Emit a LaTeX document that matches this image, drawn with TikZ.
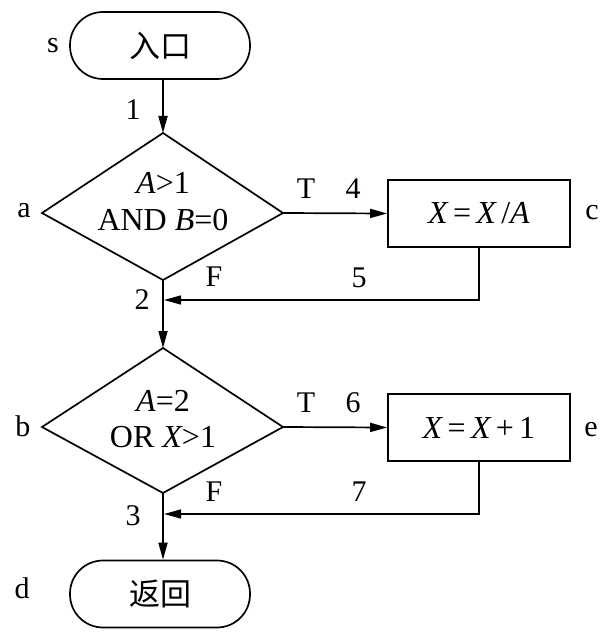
\documentclass[tikz,border=0pt]{standalone}
\usepackage{fontspec}
\setmainfont{Liberation Serif}
\newfontfamily\cjk{Noto Sans CJK SC}
\usetikzlibrary{arrows.meta}
\begin{document}
\begin{tikzpicture}[x=1pt,y=-1pt,line width=1.7pt,
  arr/.style={-{Triangle[length=17pt,width=9pt]}},
  lbl/.style={font=\fontsize{30}{32}\selectfont,inner sep=0pt},
  txt/.style={font=\fontsize{32}{34}\selectfont,inner sep=0pt},
  term/.style={draw,rounded corners=33pt,minimum width=180pt,minimum height=67pt,inner sep=0pt,font=\cjk\fontsize{31}{33}\selectfont},
  procbox/.style={draw,minimum width=182pt,minimum height=67pt,inner sep=0pt,font=\fontsize{32}{34}\selectfont}]
\useasboundingbox (0,0) rectangle (606,639);
% start terminal
\node[term] (s) at (160,45.5) {入口};
\node[lbl] (ls) at (53,46) {s};
% diamond a
\coordinate (aT) at (163,133);
\coordinate (aL) at (42,213);
\coordinate (aR) at (283,213);
\coordinate (aB) at (163,280);
\draw (aT) -- (aR) -- (aB) -- (aL) -- cycle;
\node[txt] (a1) at (163,183) {\itshape A\upshape >1};
\node[txt] (a2) at (163,220) {AND \itshape B\upshape =0};
\node[lbl] (la) at (24,211) {a};
% box c
\node[procbox] (c) at (479,213.5) {\itshape X\upshape\,=\,\itshape X\upshape\,/\itshape A};
\node[lbl] (lc) at (592,213) {c};
% diamond b
\coordinate (bT) at (163,348);
\coordinate (bL) at (42,427);
\coordinate (bR) at (283,427);
\coordinate (bB) at (163,493);
\draw (bT) -- (bR) -- (bB) -- (bL) -- cycle;
\node[txt] (b1) at (163,401) {\itshape A\upshape =2};
\node[txt] (b2) at (163,437) {OR \itshape X\upshape >1};
\node[lbl] (lb) at (23,426) {b};
% box e
\node[procbox] (e) at (479,427.5) {\itshape X\upshape\,=\,\itshape X\upshape\,+\,1};
\node[lbl] (le) at (591,430) {e};
% end terminal
\node[term] (d) at (160,594) {返回};
\node[lbl] (ld) at (22,588) {d};
% connectors
\draw[arr] (s.south -| aT) -- (aT);
\node[lbl] (n1) at (133,110) {1};
\draw[arr] (aR) -- (c.west);
\node[lbl] (tT1) at (306,189) {T};
\node[lbl] (n4) at (353,189) {4};
\node[lbl] (fF1) at (214,277) {F};
\coordinate (r5) at (164,300);
\draw[arr,line width=1.3pt] (c.south -| 479,0) |- (r5);
\node[lbl] (n5) at (359,278) {5};
\draw[arr] (aB) -- (bT);
\node[lbl] (n2) at (142,300) {2};
\draw[arr] (bR) -- (e.west);
\node[lbl] (tT2) at (306,403) {T};
\node[lbl] (n6) at (353,403) {6};
\node[lbl] (fF2) at (214,492) {F};
\coordinate (r7) at (164,514);
\draw[arr,line width=1.3pt] (e.south -| 479,0) |- (r7);
\node[lbl] (n7) at (359,492) {7};
\draw[arr] (bB) -- (d.north -| bB);
\node[lbl] (n3) at (133,516) {3};
\end{tikzpicture}
\end{document}
